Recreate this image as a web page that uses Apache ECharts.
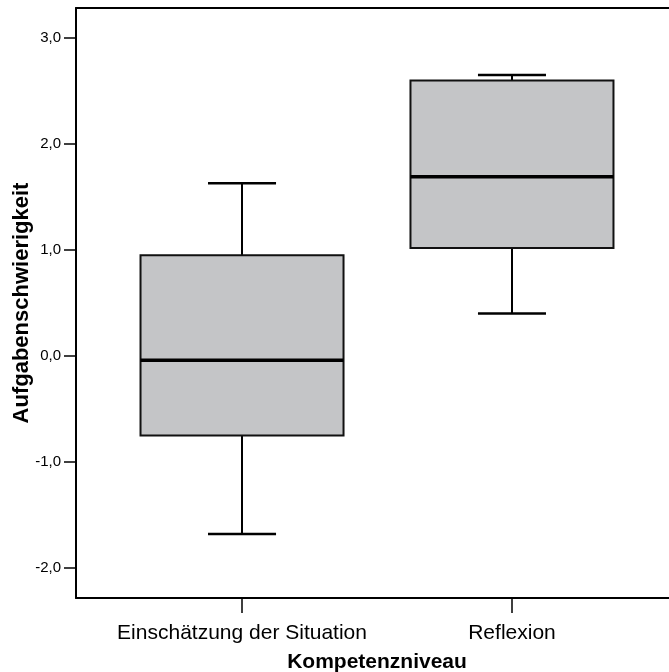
<!DOCTYPE html>
<html>
<head>
<meta charset="utf-8">
<script src="https://cdn.jsdelivr.net/npm/echarts@6/dist/echarts.min.js"></script>
<style>
html,body{margin:0;padding:0;background:#fff;}
#chart{width:669px;height:672px;}
</style>
</head>
<body>
<div id="chart"></div>
<script>
const categories = ['Einschätzung der Situation', 'Reflexion'];
const lowWhisker = [-1.68, 0.40];
const q1 = [-0.75, 1.02];
const median = [-0.04, 1.69];
const q3 = [0.95, 2.60];
const highWhisker = [1.63, 2.65];
const yTicks = [-2, -1, 0, 1, 2, 3];
const xTitle = 'Kompetenzniveau';
const yTitle = 'Aufgabenschwierigkeit';

const BOX_W = 0.752;
const CAP_W = 0.252;
const FONT = 'Liberation Sans, Arial, sans-serif';

const data = categories.map((c, i) => [i, lowWhisker[i], q1[i], median[i], q3[i], highWhisker[i]]);

function renderItem(params, api) {
  const x = api.value(0);
  const pLow = api.coord([x, api.value(1)]);
  const pQ1 = api.coord([x, api.value(2)]);
  const pMed = api.coord([x, api.value(3)]);
  const pQ3 = api.coord([x, api.value(4)]);
  const pHigh = api.coord([x, api.value(5)]);
  const bw = api.size([BOX_W, 0])[0];
  const cw = api.size([CAP_W, 0])[0];
  const cx = pMed[0];
  const line = (x1, y1, x2, y2, w) => ({
    type: 'line',
    shape: {x1, y1, x2, y2},
    style: {stroke: '#000', lineWidth: w}
  });
  return {
    type: 'group',
    children: [
      line(cx, pHigh[1], cx, pQ3[1], 2),
      line(cx - cw / 2, pHigh[1], cx + cw / 2, pHigh[1], 2.5),
      line(cx, pQ1[1], cx, pLow[1], 2),
      line(cx - cw / 2, pLow[1], cx + cw / 2, pLow[1], 2.5),
      {
        type: 'rect',
        shape: {x: cx - bw / 2, y: pQ3[1], width: bw, height: pQ1[1] - pQ3[1]},
        style: {fill: '#c4c5c7', stroke: '#111', lineWidth: 2}
      },
      line(cx - bw / 2, pMed[1], cx + bw / 2, pMed[1], 3.5)
    ]
  };
}

const chart = echarts.init(document.getElementById('chart'));
chart.setOption({
  animation: false,
  backgroundColor: '#fff',
  grid: {left: 76, top: 8, right: -9, bottom: 74, containLabel: false, outerBoundsMode: 'none'},
  xAxis: [{
    type: 'value',
    min: -0.615,
    max: 1.615,
    name: xTitle,
    nameLocation: 'middle',
    nameGap: 54,
    nameTextStyle: {fontFamily: FONT, fontSize: 21, fontWeight: 'bold', color: '#000'},
    axisLine: {show: true, onZero: false, lineStyle: {color: '#000', width: 2}},
    axisTick: {show: true, length: 15, customValues: [0, 1], lineStyle: {color: '#000', width: 1.5}},
    axisLabel: {customValues: [0, 1], margin: 25, fontFamily: FONT, fontSize: 21, color: '#000',
      formatter: v => categories[Math.round(v)]},
    splitLine: {show: false}
  }, {
    type: 'value',
    position: 'top',
    min: -0.615,
    max: 1.615,
    axisLine: {show: true, onZero: false, lineStyle: {color: '#000', width: 2}},
    axisTick: {show: false},
    axisLabel: {show: false},
    splitLine: {show: false}
  }],
  yAxis: {
    type: 'value',
    min: -2.283,
    max: 3.283,
    name: yTitle,
    nameLocation: 'middle',
    nameGap: 43,
    nameMoveOverlap: false,
    nameTextStyle: {fontFamily: FONT, fontSize: 22, fontWeight: 'bold', color: '#000'},
    axisLine: {show: true, onZero: false, lineStyle: {color: '#000', width: 2}},
    axisTick: {show: true, length: 12, customValues: yTicks, lineStyle: {color: '#000', width: 1.5}},
    axisLabel: {customValues: yTicks, margin: 15, fontFamily: FONT, fontSize: 15, color: '#000',
      formatter: v => v.toFixed(1).replace('.', ',')},
    splitLine: {show: false}
  },
  series: [{
    type: 'custom',
    renderItem: renderItem,
    data: data,
    encode: {x: 0, y: [1, 2, 3, 4, 5]},
    clip: false
  }]
});
</script>
</body>
</html>
